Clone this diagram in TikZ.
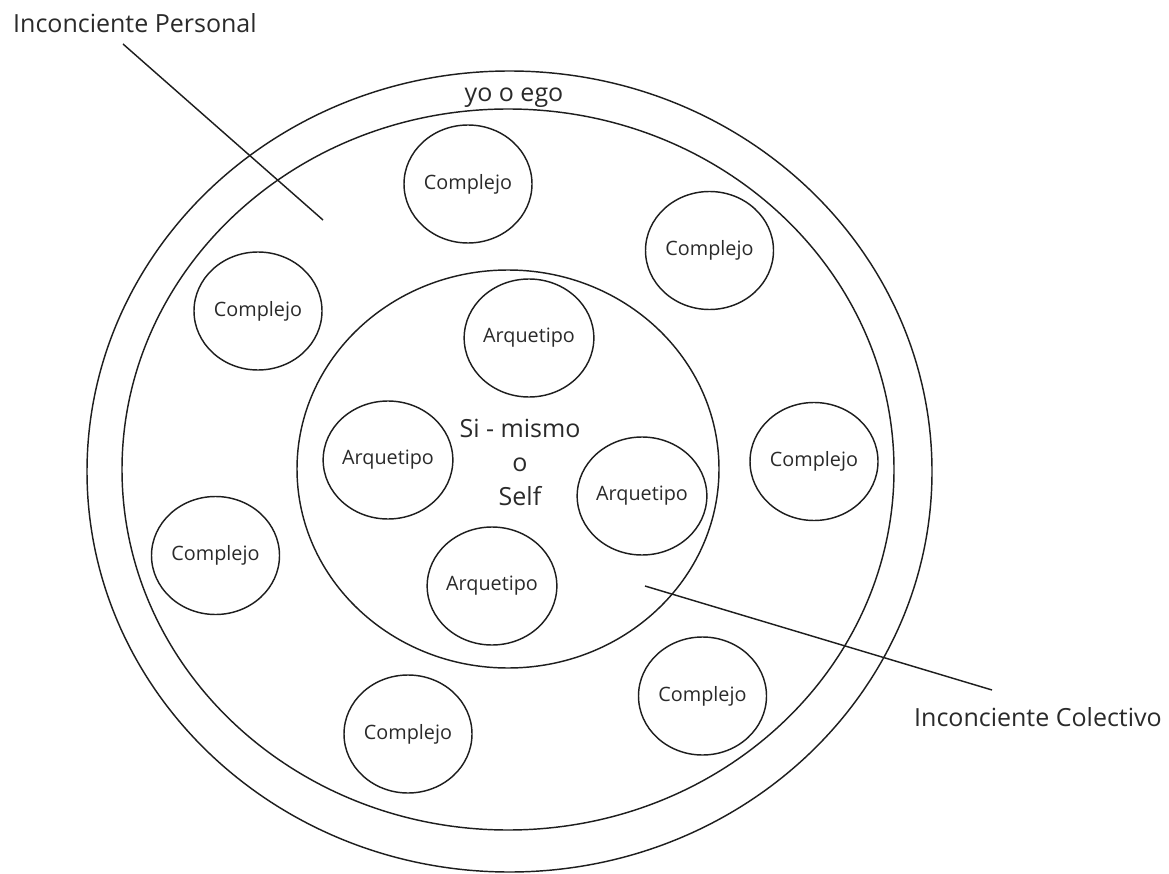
\documentclass[tikz,border=0pt]{standalone}
\usepackage{fontspec}
\setmainfont{Open Sans}
\usetikzlibrary{shapes.geometric}
\definecolor{ink}{HTML}{1E1E1E}
\definecolor{txt}{HTML}{2A2A2A}
\tikzset{
  ring/.style={ellipse, draw=ink, line width=1.45pt, inner sep=0pt},
  smallring/.style={ring, minimum width=128pt, minimum height=118pt, font=\fontsize{19.8}{22}\selectfont, text=txt},
  label/.style={font=\fontsize{25}{28}\selectfont, text=txt, inner sep=0pt},
  leader/.style={draw=ink, line width=1.45pt}
}
\begin{document}
\begin{tikzpicture}[x=1pt,y=-1pt]
\useasboundingbox (0,0) rectangle (1169,874);
% big rings
\node[ring, minimum width=845pt, minimum height=801pt] (outer) at (509.5,471.5) {};
\node[ring, minimum width=772pt, minimum height=721pt] (personal) at (508,469.5) {};
\node[ring, minimum width=422pt, minimum height=398pt] (colectivo) at (508,469) {};
% labels
\node[label, anchor=base] (ego) at (514,102) {yo o ego};
\node[label, anchor=base west] (lblP) at (13,33) {Inconciente Personal};
\node[label, anchor=base west] (lblC) at (914,726) {Inconciente Colectivo};
\node[font=\fontsize{25}{34}\selectfont, text=txt, align=center, inner sep=0pt] (self) at (520,462) {Si - mismo\\o\\Self};
% complejos
\node[smallring] (c1) at (468,184) {Complejo};
\node[smallring] (c2) at (709.5,250.5) {Complejo};
\node[smallring] (c3) at (258,311) {Complejo};
\node[smallring] (c4) at (814,461.5) {Complejo};
\node[smallring] (c5) at (215.5,555.5) {Complejo};
\node[smallring] (c6) at (702.5,696) {Complejo};
\node[smallring] (c7) at (408,734) {Complejo};
% arquetipos
\node[smallring] (a1) at (529,338) {Arquetipo};
\node[smallring] (a2) at (388,460) {Arquetipo};
\node[smallring] (a3) at (642,496) {Arquetipo};
\node[smallring] (a4) at (492,586) {Arquetipo};
% leaders
\coordinate (pS) at (123,44);
\coordinate (pE) at (323,220);
\coordinate (cS) at (645,586);
\coordinate (cE) at (992,690);
\draw[leader] (pS) -- (pE);
\draw[leader] (cS) -- (cE);
\end{tikzpicture}
\end{document}
